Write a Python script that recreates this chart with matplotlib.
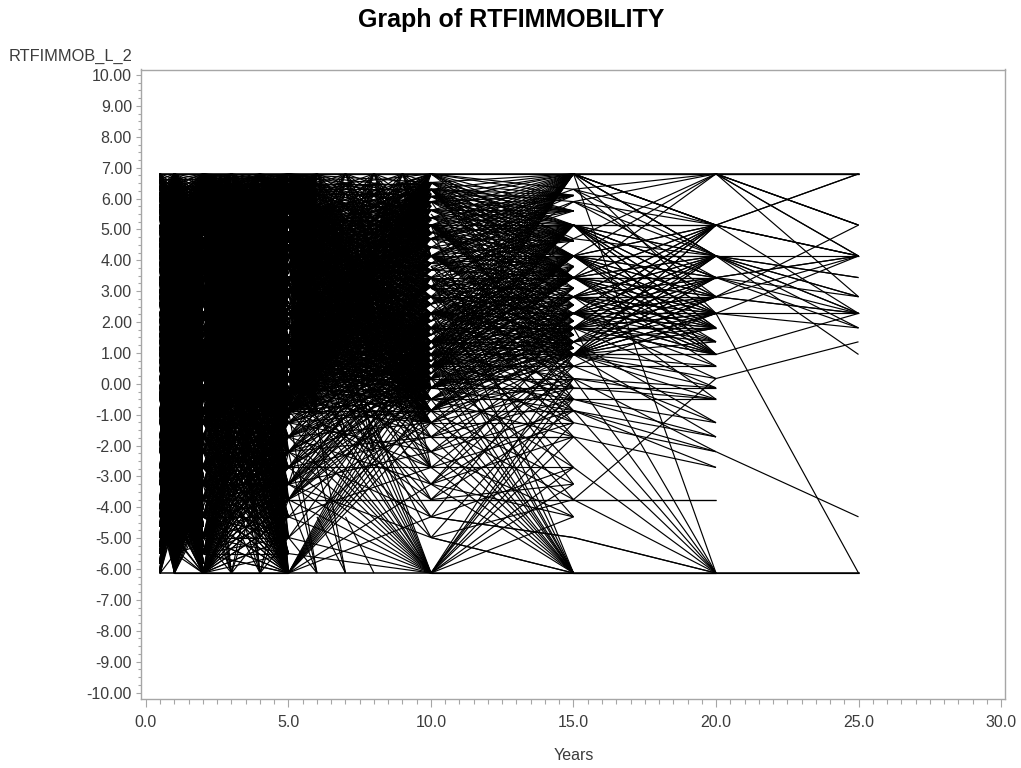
import matplotlib
matplotlib.use("Agg")
import matplotlib.pyplot as plt
from matplotlib.collections import LineCollection
from matplotlib.ticker import MultipleLocator

plt.rcParams['font.family'] = ['Liberation Sans', 'DejaVu Sans']

TOP = 6.8
BOT = -6.13

x_ticks = [0, 5, 10, 15, 20, 25, 30]
y_ticks = list(range(-10, 11))

# the left of the plot is too dense to read single lines, so it is kept as the
# levels seen at each year, with lines running between them
levels_left = [6.8, 6.62, 6.41, 6.2, 6.03, 5.82, 5.64, 5.43, 5.14, 4.96, 4.71, 4.53, 4.32, 4.14, 3.93,
               3.71, 3.44, 3.27, 3.02, 2.82, 2.6, 2.28, 2.05, 1.81, 1.58, 1.36, 1.13, .95, .72, .47,
               .17, -.13, -.34, -.5, -.87, -1.04, -1.26, -1.72, -1.98, -2.2, -2.71, -3.02, -3.25,
               -3.75, -4.05, -4.31]
levels_low = [-4.62, -4.98, -5.27, -5.5, -5.83, -6.13]
levels_at_2 = [6.8, 6.55, 6.3, 6.12, 5.9, 5.66, 5.5, 5.27, 5.14, 4.88, 4.7, 4.45, 4.14, 3.96, 3.8, 3.58,
               3.44, 3.1, 2.95, 2.82, 2.55, 2.28, 2.12, 1.81, 1.6, 1.36, 1.18, .95, .78, .57, .3, .17,
               -.13, -.32, -.5, -.87, -1.26]
levels_at_5 = [6.8, 6.6, 6.44, 6.21, 6.03, 5.85, 5.62, 5.41, 5.14, 4.92, 4.74, 4.5, 4.14, 4.02, 3.76,
               3.6, 3.44, 3.2, 3.03, 2.82, 2.63, 2.28, 2.1, 1.81, 1.55, 1.36, 1.2, .95, .7, .57, .38,
               .17, -.13, -.27, -.5, -.87, -1.1]
levels_between = [6.5, 6.12, 5.73, 5.27, 4.83, 4.4, 3.85, 3.32, 2.92, 2.45, 1.95, 1.47, 1.05, .62, .07,
                  -.4, -.7, -1.0]
levels_5_sparse = [6.8, 6.3, 5.41, 5.14, 4.5, 4.14, 3.44, 3.03, 2.28, 1.81, 1.36, .95, .57, .17, -.27, -.87]
levels_at_10 = [6.8, 6.52, 6.3, 6.07, 5.9, 5.62, 5.38, 5.14, 4.9, 4.7, 4.42, 4.14, 3.9, 3.68, 3.44, 3.15,
                2.82, 2.58, 2.28, 2.03, 1.81, 1.58, 1.36, 1.12, .95, .73, .57, .33, .17]
levels_10_low = [-.13, -.5, -.87, -1.26]
levels_10_lower_half = [5.14, 4.14, 3.44, 2.82, 2.28, 1.81, 1.36, .95, .57, .17, -.13, -.5]
levels_10_top = [6.8, 6.52, 6.3, 6.07, 5.9, 5.62, 5.38, 5.14, 4.7, 4.14]
levels_upper = [6.8, 6.66, 6.48, 6.3, 6.16, 5.95, 5.76, 5.55, 5.31, 5.14, 4.85, 4.6, 4.14, 3.7]
levels_upper_sparse = [6.8, 6.48, 6.16, 5.76, 5.31, 4.85, 4.14]
levels_lower = [-1.26, -1.72, -2.2, -2.71, -3.25, -3.75, -4.31, -4.98, -5.5, -6.13]
levels_2_sparse = [6.3, 5.14, 4.14, 3.1, 2.28, 1.36, .57, -.13, -.87]
levels_5_lower = [-1.26, -1.72, -2.2, -2.71, -3.25, -3.75]
levels_10_mid = [3.44, 2.28, 1.36, .57, .17]
levels_15_top = [6.8, 5.14, 4.14, 3.44]
levels_15_low = [2.82, 2.28, 1.81, 1.36, .95]
levels_15_upper_between = [6.1, 5.6, 4.62]
levels_15_between = [3.8, 3.1, 2.55, 2.03, 1.58, 1.15]
levels_15_to_20 = [5.14, 4.14, 3.44, 2.82, 2.28, 1.81, .95]

# each table: value at the right end -> values at the left end of the lines reaching it
fans_05_2 = {
    6.8: [6.8, 6.3, 5.5, 4.7, 3.8, 3.1, 2.28, 1.36, .57, -.5, -1.72, -2.71, -3.75, -4.98, -6.13],
    4.14: [6.8, 6.3, 5.5, 4.7, 3.8, 3.1, 2.28, 1.36, .17, -.87, -2.2, -3.75, -4.98, -6.13],
    1.36: [6.3, 5.5, 4.7, 3.8, 3.1, 2.28, .95, -.13, -1.26, -3.25, -4.98, -6.13],
    -1.26: [6.3, 5.14, 3.8, 2.82, 1.36, .17, -1.72, -2.71, -4.31, -6.13],
    -4.31: [6.8, 5.5, 4.14, 2.28, .95, -.87, -2.71, -3.75, -6.13],
    -6.13: [6.8, 6.3, 5.14, 3.8, 2.55, 1.36, .17, -1.26, -2.2, -3.25, -4.31, -4.98],
}
fans_1_2 = {
    -5.2: [5.5, 3.1, .95, -.87, -2.2, -3.75, -5.5],
    -6.13: [6.8, 5.14, 3.44, 1.81, .17, -1.72, -2.71, -3.75, -4.31, -4.98, -5.5, -6.13],
}
fans_2_3 = {
    -.87: [4.7, 2.82, 1.36, .17, -.5, -1.26, -2.2, -3.25, -4.98, -6.13],
    -1.72: [5.9, 3.44, 1.81, .57, -.13, -.87, -2.71, -4.31, -6.13],
    -2.71: [4.7, 2.82, .57, -.87, -1.72, -3.25, -4.98, -6.13],
    -4.31: [3.8, 1.36, -.5, -2.2, -3.25, -4.98, -6.13],
    -6.13: [2.28, -.13, -1.72, -3.25, -3.75, -4.98],
}
fans_3_4 = {
    -1.72: [4.7, 2.82, 1.36, -.5, -2.71, -3.75, -6.13],
    -3.25: [3.8, 1.81, .17, -1.72, -4.31, -6.13],
    -4.98: [2.55, .57, -.87, -2.71, -3.75, -6.13],
    -6.13: [3.1, .95, -1.26, -3.25, -4.31],
}
fans_4_5 = {
    -.87: [5.9, 4.14, 2.28, .95, -.5, -2.71, -4.31],
    -2.2: [5.14, 3.44, 1.81, .17, -1.26, -3.75, -6.13],
    -3.75: [4.7, 2.55, 1.36, -.13, -2.2, -4.98, -6.13],
    -4.98: [3.8, 1.81, .57, -1.72, -3.25, -6.13],
    -6.13: [5.5, 3.44, 2.28, .95, .17, -.5, -1.26, -2.2, -2.71, -3.25, -3.75, -4.31, -4.98],
}
fans_2_5 = {
    -.5: [6.3, 4.7, 2.55, 1.81, .57, -.5, -2.71, -4.98, -6.13],
    -.87: [5.5, 3.44, 2.28, .95, -.13, -1.26, -3.25, -6.13],
    -1.26: [5.9, 3.8, 1.36, .17, -.87, -2.2, -4.31, -6.13],
    -1.72: [4.14, 2.82, .57, -.5, -1.72, -3.75, -6.13],
    -2.2: [5.14, 2.28, .95, -1.26, -2.71, -6.13],
    -2.71: [3.44, 1.36, -.13, -2.2, -4.98, -6.13],
    -3.25: [4.7, 1.81, -.87, -3.25, -6.13],
    -3.75: [2.55, .17, -1.72, -4.31, -6.13],
    -4.31: [3.1, .57, -2.71, -6.13],
    -4.98: [2.28, -.5, -3.75, -6.13],
    -6.13: [4.14, 2.82, 1.36, .17, -.87, -1.72, -2.71, -3.25, -3.75, -4.31, -4.98, -5.5],
}
fans_5_6 = {
    -.5: [5.9, 3.44, 1.36, -.13, -1.72, -3.25],
    -6.13: [-.87, -2.2, -3.75, -4.98],
}
fans_6_7 = {
    -1.72: [3.1, .57, -.87, -2.71],
    -6.13: [-1.26, -2.71, -4.31],
}
fans_7_8 = {
    -2.2: [3.1, 1.36, -.5, -1.72],
    -6.13: [-4.31],
}
fans_8_9 = {
    -.87: [4.7, 1.81, -.13, -1.72],
}
fans_9_10 = {
    -.13: [4.14, 2.28, .57, -.87, -1.72],
    -2.71: [1.36, -.5, -1.26, -2.2],
}
fans_5_10 = {
    2.28: [-.5, -1.72, -3.25, -6.13],
    1.81: [-.87, -2.2, -3.75, -6.13],
    1.36: [-1.26, -2.71, -4.98, -6.13],
    .95: [-.5, -.87, -1.72, -3.25, -6.13],
    .57: [-.13, -2.2, -4.31, -6.13],
    .17: [-1.26, -2.71, -6.13],
    -.13: [6.8, 4.14, 2.55, 1.36, .57, -.5, -1.72, -3.75, -6.13],
    -.5: [5.14, 3.44, 2.28, .95, -.13, -.87, -3.25, -6.13],
    -.87: [5.9, 3.8, 1.81, .17, -.87, -1.26, -2.2, -4.98, -6.13],
    -1.26: [4.7, 2.82, 1.36, -.5, -1.72, -3.75, -6.13],
    -1.72: [5.5, 3.1, .95, -.13, -2.2, -2.71],
    -2.2: [4.14, 2.28, .57, -1.26, -3.25],
    -2.71: [3.44, 1.81, -.87, -2.71, -4.31],
    -3.25: [2.55, .17, -1.72, -6.13],
    -3.75: [4.7, 1.36, -.5, -3.75, -3.75],
    -4.31: [2.82, .57, -2.2, -6.13],
    -4.98: [3.8, -.13, -3.25],
    -6.13: [6.3, 5.14, 4.14, 3.1, 2.28, 1.36, .95, .17, -.5, -.87, -1.26, -1.72, -2.2, -2.71, -3.25, -3.75, -4.31, -4.98, -5.5],
}
fans_10_15 = {
    6.3: [6.8, 4.7],
    5.9: [6.3, 4.14, 3.1],
    4.7: [6.8, 3.8, 1.36],
    2.28: [-.87, -1.26],
    1.81: [-.87, -1.72, -3.25],
    1.36: [-1.26, -2.2, -4.31],
    .95: [-.87, -1.26, -2.71, -3.25, -6.13],
    .57: [5.5, 3.8, 2.82, 1.36, .57, -.13, -1.72, -3.75],
    .17: [4.7, 3.1, 2.28, .95, .17, -.87, -2.2, -4.98, -6.13],
    -.13: [5.9, 3.44, 1.81, .57, -.13, -.5, -1.26, -6.13],
    -.5: [5.14, 2.82, 1.36, .17, -.5, -1.72, -3.25, -6.13],
    -.87: [4.14, 2.55, .95, -.13, -.87, -.87, -2.2, -3.75],
    -1.26: [3.8, 1.81, .57, -1.26, -2.71, -6.13],
    -1.72: [3.44, 1.36, -.5, -1.72, -1.72, -3.25, -6.13],
    -2.71: [2.28, .17, -2.71, -4.31, -6.13],
    -3.25: [2.82, -.87, -3.75, -6.13],
    -3.75: [1.36, -1.26, -3.75, -3.75, -4.98],
    -4.31: [.95, -2.2, -3.25, -6.13],
    -4.98: [-4.31, -4.31],
    -6.13: [5.14, 3.44, 2.28, 1.81, .95, .57, .17, -.5, -.87, -1.26, -1.72, -2.2, -2.71, -3.25, -4.98, -4.98, -6.13],
}
fans_15_20 = {
    6.8: [6.8, 6.8, 6.3, 5.9, 4.7, 4.14, 3.44],
    5.14: [6.8, 6.8, 6.8, 6.8, 6.3, 5.9],
    4.14: [6.8, 6.8, 6.8, 6.3, 5.9, 4.7, 1.36],
    3.44: [5.9, 5.14, 1.36],
    2.82: [6.3, 1.36, .95],
    2.28: [6.8, 1.36, .95, .57],
    1.81: [1.36],
    1.36: [4.14, 3.44, 2.82, 2.28, 1.81, .95],
    .57: [3.44, 2.28, .95, .57],
    .17: [2.28, .95, -3.75],
    -.13: [1.81, .95, .17, -.13],
    -.5: [2.82, .95, .17, -.13, -.5],
    -1.26: [1.36, .57, -.5],
    -1.72: [.95, -.5, -.87],
    -2.2: [-.87, .17, -1.26],
    -2.71: [-.87, -1.72],
    -3.75: [-3.75, -3.75],
    -6.13: [6.8, 1.81, .17, -.87, -1.72, -2.71, -3.75, -4.98, -4.98, -6.13, -6.13],
}
fans_20_25 = {
    6.8: [6.8, 6.8, 5.14, 5.14],
    5.14: [6.8, 6.8, 6.8, 2.82],
    4.14: [6.8, 6.8, 5.14, 5.14, 5.14, 4.14, 3.44, 3.44, 2.82, 2.28],
    3.44: [4.14, 4.14],
    2.82: [6.8, 4.14, 4.14, 3.44],
    2.28: [5.14, 4.14, 4.14, 3.44, 2.82, 2.82, 2.28, .95],
    1.81: [4.14, 3.44, 2.28],
    1.36: [.17],
    .95: [4.14],
    -4.31: [-2.2],
    -6.13: [2.28, -6.13],
}

fan_intervals = [
    (.5, 2, fans_05_2), (1, 2, fans_1_2), (2, 3, fans_2_3), (3, 4, fans_3_4), (4, 5, fans_4_5),
    (2, 5, fans_2_5), (5, 6, fans_5_6), (6, 7, fans_6_7), (7, 8, fans_7_8), (8, 9, fans_8_9),
    (9, 10, fans_9_10), (5, 10, fans_5_10), (10, 15, fans_10_15), (15, 20, fans_15_20),
    (20, 25, fans_20_25),
]
level_intervals = [
    (.5, 1, levels_left, levels_left), (.5, 1, levels_low, levels_left), (.5, 1, levels_left, levels_low),
    (1, 2, levels_left, levels_left), (1, 2, levels_low, levels_left), (1, 2, levels_left, levels_low),
    (2, 5, levels_at_2, levels_at_5), (2, 5, levels_lower, levels_lower),
    (2, 5, levels_2_sparse, levels_lower), (2, 5, levels_lower, levels_2_sparse),
    (2, 3, levels_upper, levels_upper), (3, 4, levels_upper, levels_upper), (4, 5, levels_upper, levels_upper),
    (4, 5, levels_2_sparse, levels_between), (5, 6, levels_between, levels_2_sparse),
    (5, 6, levels_upper, levels_upper), (6, 7, levels_upper_sparse, levels_upper_sparse),
    (7, 8, levels_upper_sparse, levels_upper_sparse), (8, 9, levels_upper_sparse, levels_upper_sparse),
    (9, 10, levels_upper_sparse, levels_upper_sparse),
    (5, 10, levels_5_sparse, levels_at_10), (5, 10, levels_5_lower, levels_10_mid),
    (5, 10, levels_5_sparse, levels_10_low),
    (10, 15, levels_at_10, levels_15_top), (10, 15, levels_10_lower_half, levels_15_low),
    (10, 15, levels_10_top, levels_15_upper_between), (10, 15, levels_2_sparse, levels_15_between),
    (15, 20, levels_15_to_20, levels_15_to_20), (15, 20, levels_15_to_20, levels_15_to_20),
]

segments = []
for x0, x1, fans in fan_intervals:
    for end, starts in fans.items():
        for s in starts:
            segments.append([(x0, s), (x1, end)])
for x0, x1, starts, ends in level_intervals:
    for s in starts:
        for e in ends:
            segments.append([(x0, s), (x1, e)])

fig = plt.figure(figsize=(10.21, 7.68), dpi=100)
ax = fig.add_axes([141 / 1021, 1 - 699 / 768, 864 / 1021, 629.5 / 768])

ax.add_collection(LineCollection(segments, colors='black', linewidths=0.85, capstyle='butt'))
ax.plot([.5, 25], [TOP, TOP], color='black', lw=1.1)
ax.plot([.5, 25], [BOT, BOT], color='black', lw=1.1)

ax.set_xlim(-0.175, 30.14)
ax.set_ylim(-10.21, 10.18)

ax.set_xticks(x_ticks)
ax.set_xticklabels([f'{t:.1f}' for t in x_ticks])
ax.set_yticks(y_ticks)
ax.set_yticklabels([f'{t:.2f}' for t in y_ticks])
ax.xaxis.set_minor_locator(MultipleLocator(0.5))
ax.yaxis.set_minor_locator(MultipleLocator(0.25))

gray = '#a6a6a6'
for side in ax.spines.values():
    side.set_color(gray)
    side.set_linewidth(1.0)
ax.tick_params(axis='x', which='major', length=5.5, width=0.8, color=gray, labelsize=11.5, labelcolor='#3c3c3c', pad=6)
ax.tick_params(axis='x', which='minor', length=3.5, width=0.8, color=gray)
ax.tick_params(axis='y', which='major', length=3.5, width=0.8, color=gray, labelsize=11.5, labelcolor='#3c3c3c', pad=3)
ax.tick_params(axis='y', which='minor', length=2.2, width=0.8, color=gray)

fig.text(511 / 1021, 1 - 20 / 768, 'Graph of RTFIMMOBILITY', ha='center', va='center',
         fontsize=18, fontweight='bold', color='black')
fig.text(132 / 1021, 1 - 56 / 768, 'RTFIMMOB_L_2', ha='right', va='center', fontsize=11.8, color='#3c3c3c')
fig.text(574 / 1021, 1 - 755 / 768, 'Years', ha='center', va='center', fontsize=11.5, color='#3c3c3c')

fig.savefig('out.png', dpi=100)
